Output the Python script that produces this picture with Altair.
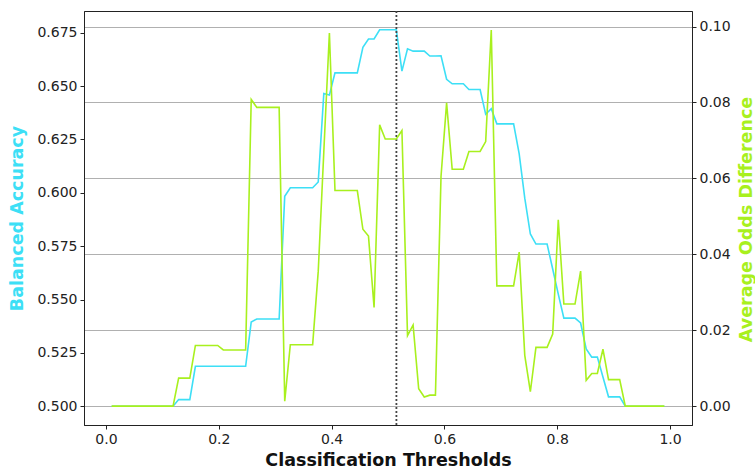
import altair as alt
import pandas as pd

# Classification thresholds (x values)
thresholds = [
    0.0100, 0.0199, 0.0298, 0.0397, 0.0496, 0.0595, 0.0694, 0.0793, 0.0892, 0.0991,
    0.1090, 0.1189, 0.1288, 0.1387, 0.1486, 0.1585, 0.1684, 0.1783, 0.1882, 0.1981,
    0.2080, 0.2179, 0.2278, 0.2377, 0.2476, 0.2575, 0.2674, 0.2773, 0.2872, 0.2971,
    0.3070, 0.3169, 0.3268, 0.3367, 0.3466, 0.3565, 0.3664, 0.3763, 0.3862, 0.3961,
    0.4060, 0.4159, 0.4258, 0.4357, 0.4456, 0.4555, 0.4654, 0.4753, 0.4852, 0.4951,
    0.5049, 0.5148, 0.5247, 0.5346, 0.5445, 0.5544, 0.5643, 0.5742, 0.5841, 0.5940,
    0.6039, 0.6138, 0.6237, 0.6336, 0.6435, 0.6534, 0.6633, 0.6732, 0.6831, 0.6930,
    0.7029, 0.7128, 0.7227, 0.7326, 0.7425, 0.7524, 0.7623, 0.7722, 0.7821, 0.7920,
    0.8019, 0.8118, 0.8217, 0.8316, 0.8415, 0.8514, 0.8613, 0.8712, 0.8811, 0.8910,
    0.9009, 0.9108, 0.9207, 0.9306, 0.9405, 0.9504, 0.9603, 0.9702, 0.9801, 0.9900,
]

balanced_accuracy = [
    0.5000, 0.5000, 0.5000, 0.5000, 0.5000, 0.5000, 0.5000, 0.5000, 0.5000, 0.5000,
    0.5000, 0.5000, 0.5031, 0.5031, 0.5031, 0.5187, 0.5187, 0.5187, 0.5187, 0.5187,
    0.5187, 0.5187, 0.5187, 0.5187, 0.5187, 0.5395, 0.5409, 0.5409, 0.5409, 0.5409,
    0.5409, 0.5984, 0.6024, 0.6024, 0.6024, 0.6024, 0.6024, 0.6051, 0.6465, 0.6458,
    0.6562, 0.6562, 0.6562, 0.6562, 0.6562, 0.6682, 0.6721, 0.6721, 0.6764, 0.6764,
    0.6764, 0.6764, 0.6570, 0.6675, 0.6664, 0.6664, 0.6664, 0.6641, 0.6641, 0.6642,
    0.6532, 0.6511, 0.6511, 0.6511, 0.6484, 0.6484, 0.6484, 0.6368, 0.6394, 0.6323,
    0.6323, 0.6323, 0.6323, 0.6182, 0.5975, 0.5807, 0.5760, 0.5760, 0.5760, 0.5643,
    0.5525, 0.5413, 0.5413, 0.5413, 0.5390, 0.5268, 0.5230, 0.5230, 0.5137, 0.5044,
    0.5044, 0.5044, 0.5000, 0.5000, 0.5000, 0.5000, 0.5000, 0.5000, 0.5000, 0.5000,
]

avg_odds_diff = [
    0.0000, 0.0000, 0.0000, 0.0000, 0.0000, 0.0000, 0.0000, 0.0000, 0.0000, 0.0000,
    0.0000, 0.0000, 0.0074, 0.0074, 0.0074, 0.0160, 0.0160, 0.0160, 0.0160, 0.0160,
    0.0148, 0.0148, 0.0148, 0.0148, 0.0148, 0.0808, 0.0787, 0.0787, 0.0787, 0.0787,
    0.0787, 0.0013, 0.0162, 0.0162, 0.0162, 0.0162, 0.0162, 0.0355, 0.0670, 0.0983,
    0.0568, 0.0568, 0.0568, 0.0568, 0.0568, 0.0466, 0.0448, 0.0260, 0.0741, 0.0704,
    0.0704, 0.0704, 0.0726, 0.0186, 0.0214, 0.0046, 0.0024, 0.0029, 0.0029, 0.0605,
    0.0799, 0.0624, 0.0624, 0.0624, 0.0671, 0.0671, 0.0671, 0.0697, 0.0991, 0.0317,
    0.0317, 0.0317, 0.0317, 0.0406, 0.0134, 0.0038, 0.0155, 0.0155, 0.0155, 0.0190,
    0.0491, 0.0269, 0.0269, 0.0269, 0.0356, 0.0068, 0.0086, 0.0086, 0.0150, 0.0070,
    0.0070, 0.0070, 0.0000, 0.0000, 0.0000, 0.0000, 0.0000, 0.0000, 0.0000, 0.0000,
]

best_threshold = [0.5149]

x_ticks = [0.0, 0.2, 0.4, 0.6, 0.8, 1.0]
ba_ticks = [0.500, 0.525, 0.550, 0.575, 0.600, 0.625, 0.650, 0.675]
aod_ticks = [0.00, 0.02, 0.04, 0.06, 0.08, 0.10]

BLUE = "#3ddff6"
GREEN = "#a8f01e"

df = pd.DataFrame({"threshold": thresholds, "ba": balanced_accuracy, "aod": avg_odds_diff})
df_best = pd.DataFrame({"threshold": best_threshold})

x_scale = alt.Scale(domain=[-0.039, 1.039], nice=False, zero=False)
x_enc = alt.X(
    "threshold:Q",
    scale=x_scale,
    axis=alt.Axis(
        values=x_ticks, format=".1f", title="Classification Thresholds", grid=False,
        titleY=26, titleBaseline="top",
    ),
)

ba_line = alt.Chart(df).mark_line(color=BLUE, strokeWidth=1.6).encode(
    x=x_enc,
    y=alt.Y(
        "ba:Q",
        scale=alt.Scale(domain=[0.4912, 0.6852], nice=False, zero=False),
        axis=alt.Axis(
            orient="left", values=ba_ticks, format=".3f", grid=False,
            title="Balanced Accuracy", titleColor=BLUE,
            titleX=-67, titleY=207, titleAngle=270, titleAlign="center", titleBaseline="middle",
        ),
    ),
)

best_rule = alt.Chart(df_best).mark_rule(color="#444444", strokeDash=[2, 2], strokeWidth=1.8).encode(
    x=alt.X("threshold:Q", scale=x_scale)
)

aod_line = alt.Chart(df).mark_line(color=GREEN, strokeWidth=1.6).encode(
    x=alt.X("threshold:Q", scale=x_scale),
    y=alt.Y(
        "aod:Q",
        scale=alt.Scale(domain=[-0.00496, 0.1041], nice=False, zero=False),
        axis=alt.Axis(
            orient="right", values=aod_ticks, format=".2f", grid=True,
            gridColor="#b0b0b0", gridWidth=1,
            title="Average Odds Difference", titleColor=GREEN,
            titleX=54, titleY=208, titleAngle=270, titleAlign="center", titleBaseline="middle",
        ),
    ),
)

chart = (
    alt.layer(ba_line, best_rule, aod_line)
    .resolve_scale(y="independent")
    .properties(
        width=608,
        height=414,
        autosize="none",
        padding={"left": 84, "top": 11, "right": 63, "bottom": 45},
        background="white",
    )
    .configure_view(stroke="#222222", strokeWidth=1)
    .configure_axis(
        labelFont="DejaVu Sans",
        labelFontSize=14,
        labelColor="#222222",
        tickColor="#222222",
        domainColor="#222222",
        tickSize=4,
        labelPadding=3,
        titleFont="DejaVu Sans",
        titleFontWeight="bold",
        titleFontSize=17.5,
        titleColor="#111111",
    )
)

chart.save("out.html", embed_options={"renderer": "svg", "actions": False})
